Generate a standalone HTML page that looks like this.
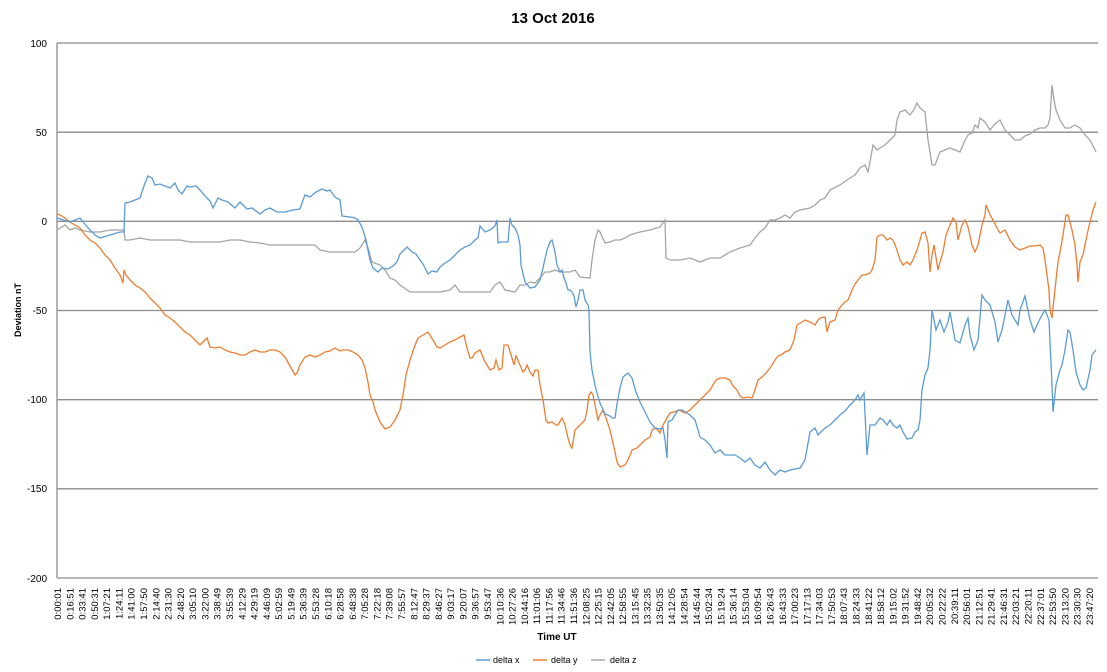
<!DOCTYPE html>
<html><head><meta charset="utf-8"><style>
html,body{margin:0;padding:0;background:#fff;}
svg{display:block;font-family:"Liberation Sans",sans-serif;}
</style></head><body>
<svg width="1107" height="672" viewBox="0 0 1107 672" xmlns="http://www.w3.org/2000/svg">
<text x="553" y="23" text-anchor="middle" font-size="15" font-weight="bold" fill="#000">13 Oct 2016</text>
<g stroke="#8c8c8c" stroke-width="1.3">
<line x1="57" y1="43" x2="1098" y2="43"/>
<line x1="57" y1="132.2" x2="1098" y2="132.2"/>
<line x1="57" y1="221.3" x2="1098" y2="221.3"/>
<line x1="57" y1="310.5" x2="1098" y2="310.5"/>
<line x1="57" y1="399.7" x2="1098" y2="399.7"/>
<line x1="57" y1="488.8" x2="1098" y2="488.8"/>
<line x1="57" y1="578" x2="1098" y2="578"/>
<line x1="57" y1="43" x2="57" y2="578"/>
</g>
<g font-size="10" text-anchor="end" fill="#000">
<text x="47" y="47">100</text><text x="47" y="136">50</text><text x="47" y="225">0</text>
<text x="47" y="314">-50</text><text x="47" y="403">-100</text><text x="47" y="492">-150</text><text x="47" y="582">-200</text>
</g>
<text transform="translate(21,310) rotate(-90)" text-anchor="middle" font-size="9" font-weight="bold">Deviation nT</text>
<text x="557" y="640" text-anchor="middle" font-size="10" font-weight="bold">Time UT</text>
<g id="xl" font-size="9.5" fill="#000"></g>
<polyline fill="none" stroke="#a5a5a5" stroke-width="1.3" points="57,230 65,225 70,230 75,228 80,230 90,232 100,232 110,230 120,230 124,230 125,240 130,240 140,238 150,240 160,240 170,240 180,240 190,242 200,242 210,242 220,242 230,240 240,240 250,242 260,243 270,245 280,245 290,245 300,245 315,245 320,250 330,252 345,252 355,252 360,248 365,240 368,248 372,262 380,265 385,270 390,278 395,280 400,285 410,292 420,292 430,292 440,292 450,290 455,285 460,292 470,292 480,292 490,292 495,285 500,282 505,290 515,292 520,285 525,285 530,282 535,283 540,278 545,272 550,272 555,270 560,272 570,272 575,270 580,277 590,278 592,260 595,240 598,230 600,232 605,243 610,242 615,240 620,240 625,238 630,235 640,232 650,230 660,227 665,220 666,258 670,260 680,260 690,258 700,262 710,258 720,258 730,252 740,248 750,245 755,238 760,232 765,228 770,220 775,220 780,218 785,215 790,218 795,212 800,210 810,208 815,205 820,200 825,198 830,190 840,185 850,178 855,175 860,168 865,165 868,172 870,162 873,145 877,150 880,148 885,145 890,140 895,135 897,120 900,112 905,110 910,115 915,108 917,103 920,108 925,112 928,140 932,165 935,165 940,152 945,150 950,148 955,150 960,152 965,140 968,135 972,133 975,125 978,128 980,118 985,122 990,130 995,124 1000,120 1005,130 1010,135 1015,140 1020,140 1025,136 1030,134 1035,130 1040,128 1045,128 1048,125 1050,118 1052,85 1054,100 1056,110 1060,120 1065,128 1070,128 1075,125 1080,128 1085,135 1090,140 1096,152"/>
<polyline fill="none" stroke="#ed7d31" stroke-width="1.3" points="57,214 60,215 65,218 70,222 75,225 80,228 85,235 90,240 95,243 100,248 105,255 110,260 115,268 120,275 123,283 124,270 126,275 130,280 135,285 140,288 145,292 150,298 155,303 160,308 165,315 170,318 175,322 180,327 185,332 190,335 195,340 200,345 203,342 207,338 210,347 215,348 220,347 225,350 230,352 235,353 240,355 245,355 250,352 255,350 260,352 265,352 270,350 275,350 280,352 285,357 290,366 295,375 297,373 300,365 305,357 310,355 315,357 320,355 325,352 330,351 335,348 340,351 343,350 348,350 353,352 358,355 362,360 365,368 368,382 370,395 373,402 375,410 380,422 385,429 390,427 395,420 400,410 403,395 406,375 410,360 414,348 418,338 423,335 428,332 433,340 437,347 440,348 445,345 450,342 455,340 460,337 464,335 467,348 470,358 472,358 475,353 480,350 485,362 490,370 494,368 496,360 499,370 502,368 504,345 508,345 512,358 514,365 516,356 520,365 523,372 525,370 527,365 530,372 533,376 535,370 538,370 540,385 543,400 546,420 548,423 552,422 556,425 558,425 562,418 565,425 568,438 570,445 572,448 575,430 580,425 585,420 587,410 589,395 591,392 593,395 596,410 598,420 600,415 603,410 606,418 610,430 615,452 617,462 620,467 625,465 628,460 632,450 637,448 640,445 645,440 650,437 652,430 656,428 660,433 663,425 667,418 670,413 674,412 679,410 685,413 690,410 695,405 700,400 705,395 710,390 713,385 716,380 720,378 725,378 730,380 733,386 737,390 740,396 743,398 748,397 752,398 755,390 758,380 762,377 766,373 770,368 772,365 775,360 778,356 781,355 785,352 790,350 794,340 797,325 802,322 805,320 810,322 815,325 818,320 820,318 825,317 827,332 830,322 835,320 838,310 842,305 845,302 848,300 852,290 855,284 858,280 862,275 865,275 870,273 872,270 875,260 877,237 880,235 883,235 887,240 890,238 893,240 897,250 900,260 903,265 907,262 910,265 913,260 915,255 917,250 920,240 922,233 925,232 928,243 930,272 932,255 934,245 938,270 940,262 943,252 946,235 950,225 953,218 956,222 958,240 962,225 965,220 968,227 972,245 975,252 978,245 980,235 982,225 985,215 986,205 990,215 993,220 997,228 1000,233 1005,230 1010,240 1015,247 1020,250 1025,248 1030,246 1035,246 1040,245 1043,248 1045,260 1047,275 1049,290 1050,310 1052,318 1053,308 1056,280 1058,262 1060,252 1063,235 1066,215 1068,215 1072,230 1075,245 1077,265 1078,282 1080,262 1083,255 1087,235 1090,222 1093,210 1096,202"/>
<polyline fill="none" stroke="#5b9bd5" stroke-width="1.3" points="57,218 70,222 80,218 88,228 95,235 100,238 110,235 120,232 124,232 125,203 130,202 135,200 140,198 145,183 148,176 152,178 155,185 160,184 165,186 170,188 175,183 178,190 182,194 187,186 190,187 196,186 200,190 205,196 210,201 213,208 218,198 222,200 228,202 235,208 240,202 247,209 252,208 260,214 265,210 270,208 277,212 285,212 293,210 300,209 302,203 305,195 310,197 316,192 322,189 327,191 330,190 335,197 340,200 342,216 350,217 355,218 358,220 362,227 366,240 370,260 373,268 378,272 382,268 388,269 393,266 397,262 400,254 404,250 407,247 412,252 416,254 420,260 423,264 425,268 428,274 432,271 437,272 440,267 445,263 450,260 455,255 460,250 465,247 470,245 475,240 478,238 480,226 485,232 490,230 495,226 497,220 498,243 500,242 505,242 508,242 510,218 512,225 515,228 518,235 520,245 521,265 525,282 530,288 535,287 540,280 543,268 547,250 550,242 552,240 555,252 557,265 560,272 562,270 564,278 566,283 568,290 570,290 572,292 574,296 576,307 578,300 580,290 583,290 585,300 588,305 589,310 590,352 592,370 595,385 597,393 600,403 605,414 610,416 612,418 615,418 617,404 620,388 623,377 628,373 632,378 636,392 640,402 645,412 650,422 655,428 660,429 663,428 665,440 667,458 668,422 672,420 678,410 682,410 690,415 695,420 698,430 700,437 705,440 710,445 715,453 720,450 725,455 735,455 740,458 745,462 750,458 755,465 760,468 765,462 770,470 775,475 780,470 785,472 790,470 800,468 805,460 810,432 815,428 818,435 825,428 830,425 835,420 840,415 845,411 850,405 855,400 858,395 860,400 864,393 867,455 870,425 875,425 880,418 883,420 887,425 890,420 893,425 897,428 900,425 903,432 907,439 912,438 915,432 918,430 920,420 922,390 925,375 928,368 930,350 932,310 936,330 940,320 944,332 948,322 950,312 955,340 960,343 965,325 968,318 970,335 974,350 978,340 982,295 985,300 990,305 995,322 998,342 1002,330 1008,300 1012,315 1018,325 1020,310 1025,296 1030,320 1034,332 1037,325 1042,315 1045,310 1049,320 1052,385 1053,412 1056,385 1060,370 1062,365 1065,350 1068,330 1070,332 1073,350 1076,372 1080,385 1083,390 1086,388 1090,370 1092,355 1096,350"/>
<g font-size="9" fill="#000">
<line x1="476" y1="660" x2="490" y2="660" stroke="#5b9bd5" stroke-width="1.5"/><text x="493" y="663">delta x</text>
<line x1="533" y1="660" x2="547" y2="660" stroke="#ed7d31" stroke-width="1.5"/><text x="551" y="663">delta y</text>
<line x1="591" y1="660" x2="605" y2="660" stroke="#a5a5a5" stroke-width="1.5"/><text x="610" y="663">delta z</text>
</g>
<g font-size="9.5" fill="#000">
<text transform="translate(61.0,588) rotate(-90)" text-anchor="end">0:00:01</text>
<text transform="translate(73.3,588) rotate(-90)" text-anchor="end">0:16:51</text>
<text transform="translate(85.6,588) rotate(-90)" text-anchor="end">0:33:41</text>
<text transform="translate(97.9,588) rotate(-90)" text-anchor="end">0:50:31</text>
<text transform="translate(110.2,588) rotate(-90)" text-anchor="end">1:07:21</text>
<text transform="translate(122.5,588) rotate(-90)" text-anchor="end">1:24:11</text>
<text transform="translate(134.7,588) rotate(-90)" text-anchor="end">1:41:00</text>
<text transform="translate(147.0,588) rotate(-90)" text-anchor="end">1:57:50</text>
<text transform="translate(159.3,588) rotate(-90)" text-anchor="end">2:14:40</text>
<text transform="translate(171.6,588) rotate(-90)" text-anchor="end">2:31:30</text>
<text transform="translate(183.9,588) rotate(-90)" text-anchor="end">2:48:20</text>
<text transform="translate(196.2,588) rotate(-90)" text-anchor="end">3:05:10</text>
<text transform="translate(208.4,588) rotate(-90)" text-anchor="end">3:22:00</text>
<text transform="translate(220.7,588) rotate(-90)" text-anchor="end">3:38:49</text>
<text transform="translate(233.0,588) rotate(-90)" text-anchor="end">3:55:39</text>
<text transform="translate(245.3,588) rotate(-90)" text-anchor="end">4:12:29</text>
<text transform="translate(257.6,588) rotate(-90)" text-anchor="end">4:29:19</text>
<text transform="translate(269.9,588) rotate(-90)" text-anchor="end">4:46:09</text>
<text transform="translate(282.1,588) rotate(-90)" text-anchor="end">5:02:59</text>
<text transform="translate(294.4,588) rotate(-90)" text-anchor="end">5:19:49</text>
<text transform="translate(306.7,588) rotate(-90)" text-anchor="end">5:36:39</text>
<text transform="translate(319.0,588) rotate(-90)" text-anchor="end">5:53:28</text>
<text transform="translate(331.3,588) rotate(-90)" text-anchor="end">6:10:18</text>
<text transform="translate(343.6,588) rotate(-90)" text-anchor="end">6:28:58</text>
<text transform="translate(355.9,588) rotate(-90)" text-anchor="end">6:48:38</text>
<text transform="translate(368.1,588) rotate(-90)" text-anchor="end">7:05:28</text>
<text transform="translate(380.4,588) rotate(-90)" text-anchor="end">7:22:18</text>
<text transform="translate(392.7,588) rotate(-90)" text-anchor="end">7:39:08</text>
<text transform="translate(405.0,588) rotate(-90)" text-anchor="end">7:55:57</text>
<text transform="translate(417.3,588) rotate(-90)" text-anchor="end">8:12:47</text>
<text transform="translate(429.6,588) rotate(-90)" text-anchor="end">8:29:37</text>
<text transform="translate(441.8,588) rotate(-90)" text-anchor="end">8:46:27</text>
<text transform="translate(454.1,588) rotate(-90)" text-anchor="end">9:03:17</text>
<text transform="translate(466.4,588) rotate(-90)" text-anchor="end">9:20:07</text>
<text transform="translate(478.7,588) rotate(-90)" text-anchor="end">9:36:57</text>
<text transform="translate(491.0,588) rotate(-90)" text-anchor="end">9:53:47</text>
<text transform="translate(503.3,588) rotate(-90)" text-anchor="end">10:10:36</text>
<text transform="translate(515.5,588) rotate(-90)" text-anchor="end">10:27:26</text>
<text transform="translate(527.8,588) rotate(-90)" text-anchor="end">10:44:16</text>
<text transform="translate(540.1,588) rotate(-90)" text-anchor="end">11:01:06</text>
<text transform="translate(552.4,588) rotate(-90)" text-anchor="end">11:17:56</text>
<text transform="translate(564.7,588) rotate(-90)" text-anchor="end">11:34:46</text>
<text transform="translate(577.0,588) rotate(-90)" text-anchor="end">11:51:36</text>
<text transform="translate(589.3,588) rotate(-90)" text-anchor="end">12:08:25</text>
<text transform="translate(601.5,588) rotate(-90)" text-anchor="end">12:25:15</text>
<text transform="translate(613.8,588) rotate(-90)" text-anchor="end">12:42:05</text>
<text transform="translate(626.1,588) rotate(-90)" text-anchor="end">12:58:55</text>
<text transform="translate(638.4,588) rotate(-90)" text-anchor="end">13:15:45</text>
<text transform="translate(650.7,588) rotate(-90)" text-anchor="end">13:32:35</text>
<text transform="translate(663.0,588) rotate(-90)" text-anchor="end">13:50:35</text>
<text transform="translate(675.2,588) rotate(-90)" text-anchor="end">14:12:05</text>
<text transform="translate(687.5,588) rotate(-90)" text-anchor="end">14:28:54</text>
<text transform="translate(699.8,588) rotate(-90)" text-anchor="end">14:45:44</text>
<text transform="translate(712.1,588) rotate(-90)" text-anchor="end">15:02:34</text>
<text transform="translate(724.4,588) rotate(-90)" text-anchor="end">15:19:24</text>
<text transform="translate(736.7,588) rotate(-90)" text-anchor="end">15:36:14</text>
<text transform="translate(748.9,588) rotate(-90)" text-anchor="end">15:53:04</text>
<text transform="translate(761.2,588) rotate(-90)" text-anchor="end">16:09:54</text>
<text transform="translate(773.5,588) rotate(-90)" text-anchor="end">16:26:43</text>
<text transform="translate(785.8,588) rotate(-90)" text-anchor="end">16:43:33</text>
<text transform="translate(798.1,588) rotate(-90)" text-anchor="end">17:00:23</text>
<text transform="translate(810.4,588) rotate(-90)" text-anchor="end">17:17:13</text>
<text transform="translate(822.6,588) rotate(-90)" text-anchor="end">17:34:03</text>
<text transform="translate(834.9,588) rotate(-90)" text-anchor="end">17:50:53</text>
<text transform="translate(847.2,588) rotate(-90)" text-anchor="end">18:07:43</text>
<text transform="translate(859.5,588) rotate(-90)" text-anchor="end">18:24:33</text>
<text transform="translate(871.8,588) rotate(-90)" text-anchor="end">18:41:22</text>
<text transform="translate(884.1,588) rotate(-90)" text-anchor="end">18:58:12</text>
<text transform="translate(896.4,588) rotate(-90)" text-anchor="end">19:15:02</text>
<text transform="translate(908.6,588) rotate(-90)" text-anchor="end">19:31:52</text>
<text transform="translate(920.9,588) rotate(-90)" text-anchor="end">19:48:42</text>
<text transform="translate(933.2,588) rotate(-90)" text-anchor="end">20:05:32</text>
<text transform="translate(945.5,588) rotate(-90)" text-anchor="end">20:22:22</text>
<text transform="translate(957.8,588) rotate(-90)" text-anchor="end">20:39:11</text>
<text transform="translate(970.1,588) rotate(-90)" text-anchor="end">20:56:01</text>
<text transform="translate(982.3,588) rotate(-90)" text-anchor="end">21:12:51</text>
<text transform="translate(994.6,588) rotate(-90)" text-anchor="end">21:29:41</text>
<text transform="translate(1006.9,588) rotate(-90)" text-anchor="end">21:46:31</text>
<text transform="translate(1019.2,588) rotate(-90)" text-anchor="end">22:03:21</text>
<text transform="translate(1031.5,588) rotate(-90)" text-anchor="end">22:20:11</text>
<text transform="translate(1043.8,588) rotate(-90)" text-anchor="end">22:37:01</text>
<text transform="translate(1056.0,588) rotate(-90)" text-anchor="end">22:53:50</text>
<text transform="translate(1068.3,588) rotate(-90)" text-anchor="end">23:13:20</text>
<text transform="translate(1080.6,588) rotate(-90)" text-anchor="end">23:30:30</text>
<text transform="translate(1092.9,588) rotate(-90)" text-anchor="end">23:47:20</text>
</g>
</svg>
</body></html>
